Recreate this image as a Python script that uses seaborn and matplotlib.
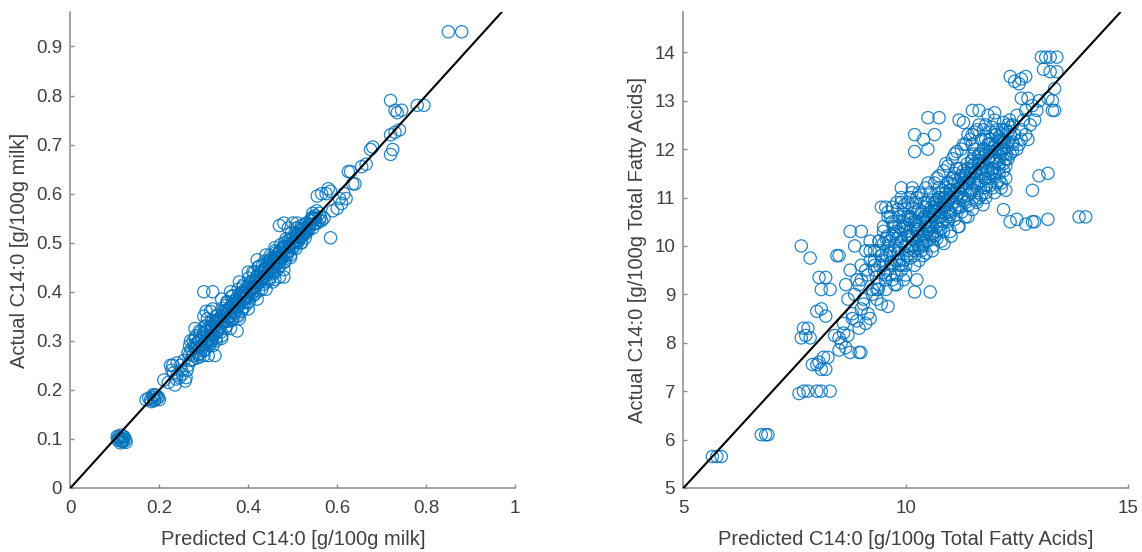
import matplotlib
matplotlib.use("Agg")
import matplotlib.pyplot as plt
import seaborn as sns
import pandas as pd

# ---------------- Left panel data: C14:0 [g/100g milk] ----------------
milk_pred = [
    0.270, 0.275, 0.280, 0.282, 0.285, 0.288, 0.290, 0.292, 0.295, 0.298,
    0.300, 0.302, 0.305, 0.308, 0.310, 0.312, 0.315, 0.318, 0.320, 0.322,
    0.325, 0.328, 0.330, 0.332, 0.335, 0.338, 0.340, 0.342, 0.345, 0.348,
    0.350, 0.352, 0.355, 0.358, 0.360, 0.362, 0.365, 0.368, 0.370, 0.372,
    0.375, 0.378, 0.380, 0.382, 0.385, 0.388, 0.390, 0.392, 0.395, 0.398,
    0.400, 0.402, 0.405, 0.408, 0.410, 0.412, 0.415, 0.418, 0.420, 0.422,
    0.425, 0.428, 0.430, 0.432, 0.435, 0.438, 0.440, 0.442, 0.445, 0.448,
    0.450, 0.452, 0.455, 0.458, 0.460, 0.462, 0.465, 0.468, 0.470, 0.472,
    0.475, 0.478, 0.480, 0.482, 0.485, 0.488, 0.490, 0.492, 0.495, 0.498,
    0.500, 0.502, 0.505, 0.508, 0.510, 0.512, 0.515, 0.518, 0.520, 0.522,
    0.525, 0.528, 0.530, 0.535, 0.540, 0.545, 0.550, 0.555, 0.560, 0.565,
    0.285, 0.295, 0.305, 0.315, 0.325, 0.335, 0.345, 0.355, 0.365, 0.375,
    0.385, 0.395, 0.405, 0.415, 0.425, 0.435, 0.445, 0.455, 0.465, 0.475,
    0.280, 0.300, 0.320, 0.340, 0.360, 0.380, 0.400, 0.420, 0.440, 0.460,
    0.300, 0.320, 0.340, 0.360, 0.380, 0.400, 0.420, 0.440, 0.460, 0.480,
    0.300, 0.320, 0.305, 0.315, 0.310, 0.325, 0.375, 0.470, 0.480, 0.455,
    0.470, 0.480, 0.490, 0.500, 0.510, 0.520, 0.530, 0.545, 0.550, 0.560,
    0.555, 0.565, 0.575, 0.580, 0.585, 0.585, 0.590, 0.600, 0.605, 0.610,
    0.615, 0.620, 0.625, 0.630, 0.635, 0.640, 0.655, 0.665, 0.675, 0.680,
    0.720, 0.725, 0.720, 0.730, 0.740, 0.720, 0.730, 0.735, 0.745, 0.780,
    0.795, 0.850, 0.880, 0.105, 0.110, 0.115, 0.120, 0.125, 0.112, 0.118,
    0.170, 0.180, 0.185, 0.190, 0.195, 0.190, 0.200, 0.210, 0.220, 0.225,
    0.230, 0.235, 0.240, 0.245, 0.250, 0.260, 0.255, 0.265, 0.270, 0.240,
    0.272, 0.278, 0.284, 0.290, 0.296, 0.302, 0.308, 0.314, 0.320, 0.326,
    0.332, 0.338, 0.344, 0.350, 0.356, 0.362, 0.368, 0.374, 0.380, 0.386,
    0.392, 0.398, 0.404, 0.410, 0.416, 0.422, 0.428, 0.434, 0.440, 0.446,
    0.452, 0.458, 0.464, 0.470, 0.476, 0.482, 0.488, 0.494, 0.500, 0.506,
    0.512, 0.518, 0.524, 0.530, 0.536, 0.542, 0.548, 0.554, 0.275, 0.287,
    0.281, 0.293, 0.305, 0.317, 0.329, 0.341, 0.353, 0.365, 0.377, 0.389,
    0.401, 0.413, 0.425, 0.437, 0.449, 0.461, 0.473, 0.485, 0.497, 0.509,
    0.291, 0.303, 0.315, 0.327, 0.339, 0.351, 0.363, 0.375, 0.387, 0.399,
    0.411, 0.423, 0.435, 0.447, 0.459, 0.471, 0.483, 0.495, 0.507, 0.519,
    0.264, 0.268, 0.276, 0.284, 0.296, 0.306, 0.318, 0.334, 0.346, 0.358,
    0.371, 0.383, 0.396, 0.408, 0.419, 0.431, 0.443, 0.456, 0.467, 0.479,
    0.491, 0.503, 0.516, 0.527, 0.538, 0.551, 0.562, 0.570, 0.228, 0.238,
    0.106, 0.108, 0.113, 0.116, 0.121, 0.124, 0.114, 0.119, 0.176, 0.182,
    0.188, 0.193, 0.186, 0.198, 0.248, 0.252, 0.262, 0.258, 0.268, 0.232,
    0.300, 0.310, 0.320, 0.330, 0.340, 0.350, 0.360, 0.370, 0.380, 0.390,
    0.400, 0.410, 0.420, 0.430, 0.440, 0.450, 0.460, 0.470, 0.480, 0.490,
    0.500, 0.510, 0.520, 0.530, 0.540, 0.550, 0.290, 0.310, 0.330, 0.350,
    0.370, 0.390, 0.410, 0.430, 0.450, 0.470, 0.490, 0.510, 0.530, 0.545,
]
milk_actual = [
    0.300, 0.270, 0.285, 0.310, 0.265, 0.300, 0.320, 0.275, 0.290, 0.315,
    0.280, 0.330, 0.300, 0.345, 0.310, 0.290, 0.325, 0.300, 0.340, 0.310,
    0.335, 0.300, 0.350, 0.320, 0.345, 0.330, 0.310, 0.360, 0.340, 0.325,
    0.355, 0.380, 0.340, 0.365, 0.350, 0.390, 0.345, 0.375, 0.360, 0.385,
    0.370, 0.350, 0.395, 0.380, 0.360, 0.410, 0.385, 0.370, 0.400, 0.390,
    0.405, 0.380, 0.420, 0.395, 0.440, 0.410, 0.395, 0.430, 0.415, 0.450,
    0.420, 0.440, 0.405, 0.455, 0.430, 0.445, 0.420, 0.460, 0.440, 0.425,
    0.455, 0.470, 0.440, 0.465, 0.450, 0.480, 0.445, 0.470, 0.460, 0.485,
    0.470, 0.490, 0.460, 0.500, 0.480, 0.475, 0.505, 0.490, 0.470, 0.500,
    0.510, 0.490, 0.520, 0.500, 0.530, 0.505, 0.515, 0.525, 0.500, 0.520,
    0.530, 0.510, 0.540, 0.525, 0.545, 0.530, 0.555, 0.540, 0.560, 0.545,
    0.295, 0.305, 0.318, 0.322, 0.330, 0.340, 0.352, 0.362, 0.368, 0.380,
    0.392, 0.398, 0.408, 0.420, 0.432, 0.438, 0.450, 0.462, 0.470, 0.478,
    0.325, 0.350, 0.365, 0.385, 0.400, 0.420, 0.440, 0.465, 0.475, 0.490,
    0.270, 0.290, 0.305, 0.325, 0.345, 0.365, 0.385, 0.405, 0.425, 0.445,
    0.400, 0.400, 0.360, 0.360, 0.270, 0.270, 0.320, 0.430, 0.430, 0.420,
    0.535, 0.540, 0.530, 0.540, 0.540, 0.535, 0.530, 0.560, 0.550, 0.545,
    0.595, 0.600, 0.600, 0.610, 0.605, 0.510, 0.565, 0.570, 0.590, 0.580,
    0.600, 0.590, 0.645, 0.645, 0.620, 0.620, 0.655, 0.660, 0.690, 0.695,
    0.680, 0.690, 0.720, 0.725, 0.730, 0.790, 0.770, 0.765, 0.770, 0.780,
    0.780, 0.930, 0.930, 0.105, 0.100, 0.095, 0.100, 0.093, 0.092, 0.105,
    0.180, 0.180, 0.185, 0.180, 0.183, 0.190, 0.180, 0.220, 0.215, 0.250,
    0.250, 0.210, 0.230, 0.225, 0.240, 0.225, 0.260, 0.250, 0.260, 0.255,
    0.282, 0.290, 0.278, 0.300, 0.292, 0.312, 0.298, 0.320, 0.312, 0.338,
    0.322, 0.348, 0.338, 0.362, 0.348, 0.372, 0.360, 0.385, 0.372, 0.398,
    0.385, 0.410, 0.398, 0.422, 0.410, 0.435, 0.420, 0.445, 0.432, 0.458,
    0.445, 0.470, 0.458, 0.480, 0.468, 0.492, 0.480, 0.505, 0.492, 0.515,
    0.502, 0.528, 0.515, 0.538, 0.528, 0.550, 0.538, 0.565, 0.262, 0.272,
    0.305, 0.318, 0.330, 0.342, 0.352, 0.366, 0.378, 0.392, 0.405, 0.414,
    0.428, 0.438, 0.452, 0.462, 0.474, 0.484, 0.496, 0.508, 0.520, 0.530,
    0.268, 0.282, 0.295, 0.305, 0.318, 0.330, 0.342, 0.352, 0.365, 0.378,
    0.392, 0.402, 0.415, 0.428, 0.438, 0.452, 0.462, 0.475, 0.488, 0.500,
    0.275, 0.290, 0.300, 0.295, 0.285, 0.322, 0.305, 0.345, 0.358, 0.350,
    0.375, 0.390, 0.392, 0.405, 0.425, 0.428, 0.438, 0.452, 0.478, 0.475,
    0.498, 0.500, 0.510, 0.522, 0.535, 0.540, 0.552, 0.550, 0.240, 0.222,
    0.098, 0.104, 0.102, 0.096, 0.104, 0.098, 0.108, 0.094, 0.183, 0.176,
    0.178, 0.188, 0.190, 0.185, 0.250, 0.232, 0.240, 0.218, 0.272, 0.235,
    0.315, 0.302, 0.330, 0.318, 0.348, 0.340, 0.368, 0.355, 0.388, 0.378,
    0.412, 0.400, 0.425, 0.438, 0.448, 0.442, 0.470, 0.462, 0.492, 0.482,
    0.498, 0.518, 0.512, 0.525, 0.538, 0.548, 0.288, 0.296, 0.342, 0.372,
    0.382, 0.402, 0.408, 0.425, 0.465, 0.470, 0.492, 0.512, 0.520, 0.552,
]

# ------------- Right panel data: C14:0 [g/100g Total Fatty Acids] -------------
tfa_pred = [
    5.65, 5.75, 5.85, 6.75, 6.85, 6.90, 7.60, 7.70, 7.80, 8.00,
    8.10, 8.30, 7.90, 8.00, 8.10, 8.20, 8.15, 8.25, 8.05, 7.65,
    7.70, 7.80, 7.85, 7.75, 8.40, 8.50, 8.55, 8.60, 8.70, 8.65,
    8.75, 8.50, 8.95, 8.99, 7.65, 7.85, 8.75, 9.00, 8.85, 8.50,
    8.45, 8.05, 8.20, 8.30, 8.10, 8.00, 8.10, 8.20, 10.55, 10.20,
    10.25, 9.60, 9.45, 9.55, 9.90, 10.15, 12.35, 12.50, 12.70, 12.85,
    12.90, 13.20, 13.90, 14.05, 13.00, 13.20, 12.85, 12.20, 13.05, 13.15,
    13.25, 13.40, 12.35, 12.45, 12.60, 12.70, 12.55, 13.10, 13.25, 13.40,
    12.60, 12.75, 13.00, 13.20, 13.30, 13.35, 13.30, 13.35, 12.95, 12.85,
    11.50, 11.65, 11.85, 12.00, 12.10, 12.20, 12.30, 12.40, 11.90, 12.00,
    10.50, 10.75, 11.20, 11.30, 10.20, 10.40, 10.65, 10.20, 10.50, 12.25,
    8.80, 8.90, 9.00, 9.10, 9.20, 8.85, 8.95, 9.05, 9.15, 9.25,
    9.30, 9.40, 9.50, 9.35, 9.45, 9.55, 9.20, 9.30, 9.40, 9.50,
    9.60, 9.65, 9.70, 9.75, 9.80, 9.85, 9.60, 9.70, 9.80, 9.90,
    9.90, 9.95, 10.00, 10.05, 10.10, 10.15, 10.20, 10.25, 10.30, 10.35,
    10.40, 10.45, 10.50, 10.55, 10.60, 10.65, 10.70, 10.75, 10.80, 10.85,
    10.90, 10.95, 11.00, 11.05, 11.10, 11.15, 11.20, 11.25, 11.30, 11.35,
    11.40, 11.45, 11.50, 11.55, 11.60, 11.65, 11.70, 11.75, 11.80, 11.85,
    11.90, 11.95, 12.00, 12.05, 12.10, 12.15, 12.20, 12.25, 12.30, 12.35,
    9.95, 10.05, 10.15, 10.25, 10.35, 10.45, 10.55, 10.65, 10.75, 10.85,
    10.95, 11.05, 11.15, 11.25, 11.35, 11.45, 11.55, 11.65, 11.75, 11.85,
    9.70, 9.90, 10.10, 10.30, 10.50, 10.70, 10.90, 11.10, 11.30, 11.50,
    10.00, 10.20, 10.40, 10.60, 10.80, 11.00, 11.20, 11.40, 11.60, 11.80,
    9.85, 10.05, 10.25, 10.45, 10.65, 10.85, 11.05, 11.25, 11.45, 11.65,
    11.95, 12.05, 12.15, 12.25, 12.00, 12.10, 12.20, 11.90, 11.80, 11.70,
    10.10, 10.20, 10.30, 10.40, 10.50, 10.60, 10.70, 10.80, 10.90, 11.00,
    12.40, 12.45, 12.50, 12.60, 12.65, 12.70, 12.80, 12.90, 12.55, 12.75,
    11.40, 11.50, 11.60, 11.70, 11.80, 11.90, 12.00, 11.55, 11.75, 11.95,
    9.30, 9.38, 9.46, 9.54, 9.62, 9.70, 9.78, 9.86, 9.94, 10.02,
    10.10, 10.18, 10.26, 10.34, 10.42, 10.50, 10.58, 10.66, 10.74, 10.82,
    10.90, 10.98, 11.06, 11.14, 11.22, 11.30, 11.38, 11.46, 11.54, 11.62,
    11.70, 11.78, 11.86, 11.94, 12.02, 12.10, 12.18, 12.26, 12.34, 12.42,
    9.34, 9.42, 9.50, 9.58, 9.66, 9.74, 9.82, 9.90, 9.98, 10.06,
    10.14, 10.22, 10.30, 10.38, 10.46, 10.54, 10.62, 10.70, 10.78, 10.86,
    10.94, 11.02, 11.10, 11.18, 11.26, 11.34, 11.42, 11.50, 11.58, 11.66,
    11.74, 11.82, 11.90, 11.98, 12.06, 12.14, 12.22, 12.30, 9.60, 9.75,
    9.85, 9.95, 10.05, 10.15, 10.25, 10.35, 10.45, 10.55, 10.65, 10.75,
    9.80, 9.90, 10.00, 10.10, 10.20, 10.30, 10.40, 10.50, 10.60, 10.70,
    10.80, 10.90, 11.00, 11.10, 11.20, 11.30, 11.40, 11.50, 11.60, 11.70,
    10.85, 10.95, 11.05, 11.15, 11.25, 11.35, 11.45, 11.55, 11.65, 11.75,
    9.00, 9.10, 9.20, 9.30, 9.40, 9.50, 9.60, 9.70, 9.80, 9.90,
    9.05, 9.15, 9.25, 9.35, 9.45, 9.55, 9.65, 9.75, 9.85, 9.95,
    12.00, 12.10, 12.20, 12.30, 12.40, 12.50, 12.60, 12.70, 12.15, 12.25,
    8.60, 8.70, 8.80, 8.90, 9.00, 8.65, 8.75, 8.95, 9.10, 9.20,
    10.30, 10.40, 10.50, 10.60, 10.70, 10.80, 10.90, 11.00, 11.10, 11.20,
    11.30, 11.40, 11.50, 11.60, 11.70, 11.80, 11.90, 12.00, 12.10, 12.20,
    9.50, 9.58, 9.66, 9.74, 9.82, 9.90, 9.98, 10.06, 10.14, 10.22,
    10.30, 10.38, 10.46, 10.54, 10.62, 10.70, 10.78, 10.86, 10.94, 11.02,
    11.10, 11.18, 11.26, 11.34, 11.42, 11.50, 11.58, 11.66, 11.74, 11.82,
    10.04, 10.12, 10.20, 10.28, 10.36, 10.44, 10.52, 10.60, 10.68, 10.76,
    10.84, 10.92, 11.00, 11.08, 11.16, 11.24, 11.32, 11.40, 11.48, 11.56,
    11.64, 11.72, 11.80, 11.88, 11.96, 12.04, 12.12, 12.20, 12.28, 12.36,
    9.40, 9.48, 9.56, 9.64, 9.72, 9.80, 9.88, 9.96, 10.04, 10.12,
    11.90, 12.00, 12.10, 12.20, 11.85, 11.95, 12.05, 12.15, 12.25, 12.35,
]
tfa_actual = [
    5.65, 5.65, 5.65, 6.10, 6.10, 6.10, 6.95, 7.00, 7.00, 7.00,
    7.00, 7.00, 7.55, 7.55, 7.45, 7.45, 7.70, 7.70, 7.60, 8.10,
    8.30, 8.30, 8.10, 8.15, 8.15, 8.10, 8.00, 8.20, 8.15, 7.90,
    7.80, 7.85, 7.80, 7.80, 10.00, 9.75, 10.30, 10.30, 10.00, 9.80,
    9.80, 9.35, 9.35, 9.10, 9.10, 8.65, 8.70, 8.55, 9.05, 9.05,
    9.30, 8.75, 10.80, 10.80, 11.20, 11.20, 10.50, 10.55, 10.45, 10.50,
    10.50, 10.55, 10.60, 10.60, 11.45, 11.50, 11.15, 10.75, 13.90, 13.90,
    13.90, 13.90, 13.50, 13.40, 13.45, 13.50, 13.35, 13.65, 13.60, 13.60,
    13.05, 13.05, 13.00, 13.05, 13.00, 13.25, 12.80, 12.80, 12.80, 12.90,
    12.80, 12.80, 12.70, 12.75, 12.15, 12.15, 12.15, 12.15, 12.10, 11.95,
    12.65, 12.65, 12.60, 12.55, 12.30, 12.20, 12.30, 11.95, 12.00, 12.40,
    8.60, 8.45, 8.70, 8.40, 8.50, 9.00, 9.20, 8.90, 9.40, 9.10,
    9.50, 9.20, 9.60, 8.90, 9.80, 9.30, 9.90, 9.70, 10.10, 10.30,
    9.50, 9.90, 9.30, 10.00, 9.70, 10.40, 10.60, 10.20, 9.20, 9.60,
    10.10, 9.70, 10.30, 9.90, 10.60, 10.00, 9.80, 10.50, 10.20, 9.90,
    10.60, 10.10, 10.90, 10.40, 10.20, 10.80, 10.50, 11.00, 10.60, 10.30,
    11.10, 10.70, 11.30, 10.90, 11.50, 11.00, 10.80, 11.40, 11.20, 10.90,
    11.60, 11.20, 11.80, 11.30, 11.10, 11.70, 11.50, 12.00, 11.40, 11.80,
    12.20, 11.60, 11.80, 12.40, 11.50, 12.00, 12.20, 11.80, 12.50, 12.30,
    10.40, 10.60, 10.20, 10.10, 10.70, 10.80, 10.60, 10.90, 11.20, 10.80,
    11.30, 11.40, 11.60, 11.00, 11.50, 11.40, 11.70, 11.90, 11.20, 12.10,
    10.50, 10.90, 11.00, 11.10, 11.30, 11.40, 11.70, 11.90, 12.10, 12.30,
    9.40, 9.60, 9.80, 9.90, 10.10, 10.30, 10.40, 10.60, 10.90, 11.00,
    9.95, 10.00, 10.30, 10.50, 10.70, 10.90, 11.10, 11.20, 11.50, 11.60,
    11.60, 11.30, 11.20, 11.40, 11.10, 11.70, 11.90, 11.40, 11.10, 11.05,
    10.30, 10.45, 10.00, 10.20, 10.40, 10.60, 10.30, 10.90, 11.00, 10.70,
    12.50, 12.30, 12.70, 12.40, 12.60, 12.80, 12.50, 12.60, 12.10, 12.20,
    12.30, 12.10, 12.40, 12.20, 12.50, 12.35, 12.60, 12.00, 12.00, 12.45,
    9.60, 9.10, 9.80, 9.40, 10.10, 9.60, 10.30, 9.70, 10.50, 9.80,
    10.60, 10.00, 10.70, 10.10, 10.90, 10.30, 10.80, 10.20, 11.10, 10.50,
    11.20, 10.60, 11.40, 10.80, 11.60, 11.00, 11.70, 11.10, 11.90, 11.30,
    11.90, 11.40, 12.10, 11.50, 12.30, 11.70, 12.40, 11.90, 12.60, 12.10,
    9.35, 9.60, 9.45, 9.80, 9.65, 9.90, 9.85, 10.10, 10.00, 10.20,
    10.15, 10.35, 10.35, 10.55, 10.50, 10.70, 10.65, 10.85, 10.80, 11.00,
    10.95, 11.15, 11.10, 11.30, 11.25, 11.45, 11.40, 11.60, 11.55, 11.75,
    11.70, 11.90, 11.85, 12.05, 12.00, 12.20, 12.15, 12.35, 10.00, 10.25,
    10.60, 10.75, 10.90, 10.80, 11.00, 11.05, 11.20, 11.10, 11.30, 11.45,
    9.40, 9.50, 9.60, 9.75, 9.90, 9.95, 10.00, 10.10, 10.25, 10.40,
    10.45, 10.55, 10.65, 10.75, 10.85, 10.95, 11.05, 11.15, 11.25, 11.35,
    11.55, 11.65, 11.80, 11.95, 12.00, 12.10, 12.20, 12.35, 12.50, 12.40,
    9.30, 9.50, 9.70, 9.90, 10.10, 10.05, 10.70, 10.80, 10.90, 11.00,
    8.80, 8.60, 9.00, 9.10, 8.80, 9.10, 9.40, 9.20, 9.60, 9.30,
    11.50, 11.60, 11.70, 11.80, 11.95, 12.00, 12.20, 12.30, 11.30, 11.15,
    8.40, 8.90, 8.50, 9.30, 9.60, 9.20, 9.50, 8.30, 9.90, 10.10,
    10.75, 10.25, 10.55, 10.40, 10.95, 10.70, 10.85, 11.00, 11.35, 11.10,
    11.55, 11.30, 11.65, 11.45, 11.60, 11.55, 11.95, 12.10, 12.25, 12.00,
    10.40, 10.20, 10.60, 10.45, 10.75, 10.35, 10.85, 10.55, 11.10, 10.90,
    9.70, 10.05, 9.85, 10.25, 10.00, 10.15, 10.35, 10.05, 10.50, 10.20,
    10.55, 10.40, 10.70, 10.60, 10.85, 10.75, 10.95, 11.00, 10.85, 11.25,
    10.20, 10.55, 10.50, 10.35, 10.65, 10.60, 10.35, 10.95, 10.75, 10.60,
    11.15, 10.85, 11.15, 11.25, 11.05, 11.45, 11.30, 11.35, 11.75, 11.50,
    11.85, 11.60, 12.20, 11.95, 11.75, 12.30, 11.85, 12.55, 12.05, 12.45,
    9.90, 9.70, 10.15, 9.85, 10.40, 10.15, 10.25, 10.65, 10.45, 9.95,
    11.25, 11.45, 11.35, 11.55, 11.55, 11.20, 11.75, 11.95, 11.65, 11.90,
]

left_xticks = [0, 0.2, 0.4, 0.6, 0.8, 1]
left_xticklabels = ["0", "0.2", "0.4", "0.6", "0.8", "1"]
left_yticks = [0, 0.1, 0.2, 0.3, 0.4, 0.5, 0.6, 0.7, 0.8, 0.9]
left_yticklabels = ["0", "0.1", "0.2", "0.3", "0.4", "0.5", "0.6", "0.7", "0.8", "0.9"]
right_xticks = [5, 10, 15]
right_yticks = [5, 6, 7, 8, 9, 10, 11, 12, 13, 14]

left_xlabel = "Predicted C14:0 [g/100g milk]"
left_ylabel = "Actual C14:0 [g/100g milk]"
right_xlabel = "Predicted C14:0 [g/100g Total Fatty Acids]"
right_ylabel = "Actual C14:0 [g/100g Total Fatty Acids]"

sns.set_theme(style="white")
plt.rcParams["font.family"] = ["Liberation Sans", "DejaVu Sans"]

MARKER_COLOR = "#0072BD"
AXIS_COLOR = "#8a8a8a"
TEXT_COLOR = "#404040"

fig = plt.figure(figsize=(11.42, 5.52), dpi=100)
ax1 = fig.add_axes([0.0617, 0.116, 0.3893, 0.862])
ax2 = fig.add_axes([0.5985, 0.116, 0.3892, 0.862])

df_milk = pd.DataFrame({"pred": milk_pred, "actual": milk_actual})
df_tfa = pd.DataFrame({"pred": tfa_pred, "actual": tfa_actual})

for ax, df in ((ax1, df_milk), (ax2, df_tfa)):
    sns.scatterplot(data=df, x="pred", y="actual", ax=ax, marker="o", s=78,
                    facecolors="none", edgecolor=MARKER_COLOR, linewidth=0.9,
                    alpha=0.85, legend=False, zorder=2)
    ax.axline((0, 0), slope=1, color="black", linewidth=1.5, zorder=3)

ax1.set_xlim(0, 1)
ax1.set_ylim(0, 0.97)
ax1.set_xticks(left_xticks)
ax1.set_xticklabels(left_xticklabels)
ax1.set_yticks(left_yticks)
ax1.set_yticklabels(left_yticklabels)
ax1.set_xlabel(left_xlabel)
ax1.set_ylabel(left_ylabel)

ax2.set_xlim(5, 15)
ax2.set_ylim(5, 14.83)
ax2.set_xticks(right_xticks)
ax2.set_yticks(right_yticks)
ax2.set_xlabel(right_xlabel)
ax2.set_ylabel(right_ylabel)

for ax in (ax1, ax2):
    sns.despine(ax=ax)
    for side in ("left", "bottom"):
        ax.spines[side].set_color(AXIS_COLOR)
        ax.spines[side].set_linewidth(1.1)
    ax.tick_params(axis="both", direction="in", length=3, width=1.0,
                   color=AXIS_COLOR, labelcolor=TEXT_COLOR, labelsize=13.5,
                   bottom=True, left=True)
    ax.tick_params(axis="x", pad=9)
    ax.tick_params(axis="y", pad=6)
    ax.xaxis.label.set_color(TEXT_COLOR)
    ax.yaxis.label.set_color(TEXT_COLOR)
    ax.xaxis.label.set_size(14.5)
    ax.yaxis.label.set_size(14.5)
    ax.xaxis.labelpad = 9
    ax.yaxis.labelpad = 5
    ax.set_facecolor("white")

fig.savefig("out.png", dpi=100, facecolor="white")
